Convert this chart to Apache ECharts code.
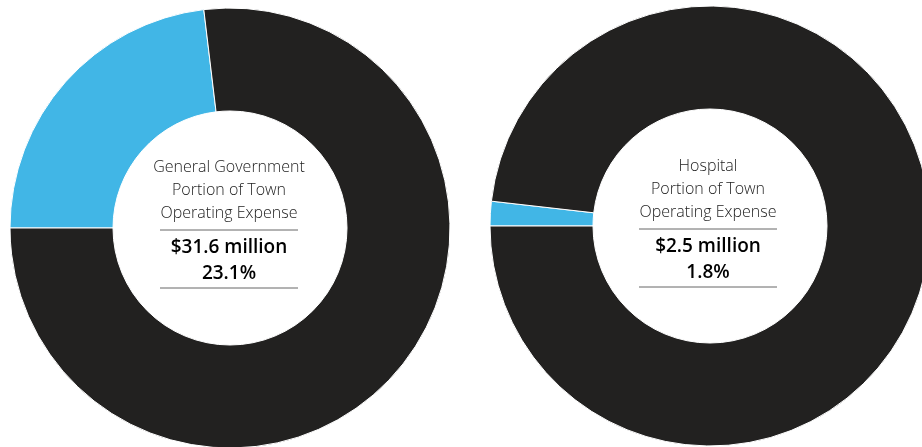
<!DOCTYPE html>
<html>
<head>
<meta charset="utf-8">
<script src="https://cdn.jsdelivr.net/npm/echarts@6/dist/echarts.min.js"></script>
<style>
html,body{margin:0;padding:0;background:#fff;}
#c{width:922px;height:447px;}
</style>
</head>
<body>
<div id="c"></div>
<script>
const categories = ['Portion', 'Rest'];
const leftValues = [23.1, 76.9];
const rightValues = [1.8, 98.2];
const leftTitle = ['General Government', 'Portion of Town', 'Operating Expense'];
const leftAmount = ['$31.6 million', '23.1%'];
const rightTitle = ['Hospital', 'Portion of Town', 'Operating Expense'];
const rightAmount = ['$2.5 million', '1.8%'];

const colors = ['#41B6E6', '#222120'];
const chart = echarts.init(document.getElementById('c'));

function pie(center, values) {
  return {
    type: 'pie',
    center: center,
    radius: [117, 220],
    startAngle: 180,
    clockwise: true,
    silent: true,
    label: { show: false },
    labelLine: { show: false },
    itemStyle: { borderColor: '#fff', borderWidth: 1 },
    data: values.map((v, i) => ({ name: categories[i], value: v, itemStyle: { color: colors[i] } }))
  };
}

function block(cx, topY, title, amount) {
  const els = [];
  title.forEach((t, i) => {
    els.push({ type: 'text', x: cx, y: topY + i * 23, style: { text: t, fill: '#222', font: '300 16px "Open Sans", "Noto Sans", sans-serif', align: 'center', verticalAlign: 'middle' } });
  });
  const ly1 = topY + 63;
  els.push({ type: 'line', shape: { x1: cx - 69, y1: ly1, x2: cx + 69, y2: ly1 }, style: { stroke: '#666', lineWidth: 1 } });
  amount.forEach((t, i) => {
    els.push({ type: 'text', x: cx, y: topY + 81 + i * 26, style: { text: t, fill: '#000', font: '600 19px "Open Sans", "Noto Sans", sans-serif', align: 'center', verticalAlign: 'middle' } });
  });
  const ly2 = topY + 121;
  els.push({ type: 'line', shape: { x1: cx - 69, y1: ly2, x2: cx + 69, y2: ly2 }, style: { stroke: '#666', lineWidth: 1 } });
  return els;
}

chart.setOption({
  animation: false,
  series: [pie([230, 228], leftValues), pie([710, 226], rightValues)],
  graphic: [].concat(block(229, 167, leftTitle, leftAmount), block(708, 166, rightTitle, rightAmount))
});
</script>
</body>
</html>
